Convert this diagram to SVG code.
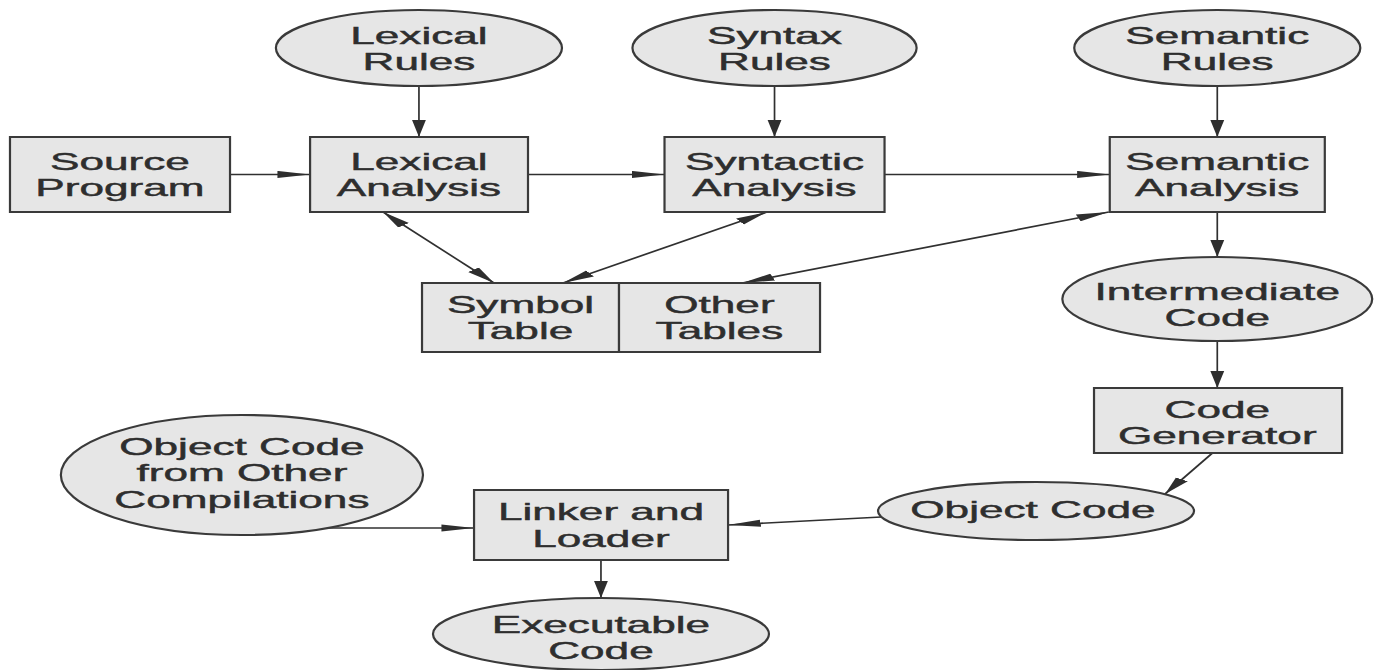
<svg xmlns="http://www.w3.org/2000/svg" width="1382" height="670" viewBox="0 0 1382 670">
  <defs>
    <style>
      .box, .oval { fill: #e6e6e6; stroke: #3a3a3a; stroke-width: 2.2; vector-effect: non-scaling-stroke; }
      .link { fill: none; stroke: #303030; stroke-width: 1.7; vector-effect: non-scaling-stroke; }
      .end { marker-end: url(#head); }
      .both { marker-start: url(#head); marker-end: url(#head); }
      text { font-family: "Liberation Sans", Arial, sans-serif; font-size: 23px; fill: #2e2e2e; stroke: #2e2e2e; stroke-width: 0.45; text-anchor: middle; }
    </style>
    <marker id="head" markerUnits="userSpaceOnUse" viewBox="0 -4 17 8" refX="17" refY="0" markerWidth="17" markerHeight="8" orient="auto-start-reverse">
      <path d="M0,-3.6 L17,0 L0,3.6 Z" fill="#2e2e2e"/>
    </marker>
  </defs>
  <rect width="1382" height="670" fill="#ffffff"/>

  <!-- drawing is laid out in a horizontally condensed frame and widened here -->
  <g transform="scale(1.92 1)">
    <g id="connectors">
      <path class="link end" d="M119.8,174.5 H161.5"/>
      <path class="link end" d="M275,174.5 H346.1"/>
      <path class="link end" d="M460.7,174.5 H578"/>
      <path class="link end" d="M218.2,86 V137"/>
      <path class="link end" d="M403.4,86 V137"/>
      <path class="link end" d="M634,86 V137"/>
      <path class="link end" d="M634,212 V257"/>
      <path class="link end" d="M634,341 V388"/>
      <path class="link end" d="M631.5,453 L606.8,494"/>
      <path class="link end" d="M459,517 L379.2,525"/>
      <path class="link end" d="M170.2,528 H246.9"/>
      <path class="link end" d="M313,560 V598"/>
      <path class="link both" d="M199.5,212 L257.3,283"/>
      <path class="link both" d="M399.5,212 L293.2,283"/>
      <path class="link both" d="M577.5,212 L386.5,283"/>
    </g>

    <g id="source-program">
      <rect class="box" x="5.2" y="137" width="114.6" height="75"/>
      <text x="62.5" y="170">Source</text>
      <text x="62.5" y="196">Program</text>
    </g>
    <g id="lexical-rules">
      <ellipse class="oval" cx="218.2" cy="48" rx="74.5" ry="38"/>
      <text x="218.2" y="44.5">Lexical</text>
      <text x="218.2" y="70.5">Rules</text>
    </g>
    <g id="syntax-rules">
      <ellipse class="oval" cx="403.4" cy="48" rx="74" ry="38"/>
      <text x="403.4" y="44.5">Syntax</text>
      <text x="403.4" y="70.5">Rules</text>
    </g>
    <g id="semantic-rules">
      <ellipse class="oval" cx="634" cy="48" rx="74.5" ry="38"/>
      <text x="634" y="44.5">Semantic</text>
      <text x="634" y="70.5">Rules</text>
    </g>
    <g id="lexical-analysis">
      <rect class="box" x="161.5" y="137" width="113.5" height="75"/>
      <text x="218.2" y="170">Lexical</text>
      <text x="218.2" y="196">Analysis</text>
    </g>
    <g id="syntactic-analysis">
      <rect class="box" x="346.1" y="137" width="114.6" height="75"/>
      <text x="403.4" y="170">Syntactic</text>
      <text x="403.4" y="196">Analysis</text>
    </g>
    <g id="semantic-analysis">
      <rect class="box" x="578" y="137" width="112" height="75"/>
      <text x="634" y="170">Semantic</text>
      <text x="634" y="196">Analysis</text>
    </g>
    <g id="symbol-table">
      <rect class="box" x="219.8" y="283" width="102.6" height="69"/>
      <text x="271.1" y="313.5">Symbol</text>
      <text x="271.1" y="339.5">Table</text>
    </g>
    <g id="other-tables">
      <rect class="box" x="322.4" y="283" width="104.7" height="69"/>
      <text x="374.7" y="313.5">Other</text>
      <text x="374.7" y="339.5">Tables</text>
    </g>
    <g id="intermediate-code">
      <ellipse class="oval" cx="634" cy="299" rx="80.7" ry="42"/>
      <text x="634" y="300">Intermediate</text>
      <text x="634" y="326">Code</text>
    </g>
    <g id="code-generator">
      <rect class="box" x="569.8" y="388" width="129.2" height="65"/>
      <text x="634" y="418.5">Code</text>
      <text x="634" y="444.5">Generator</text>
    </g>
    <g id="object-code">
      <ellipse class="oval" cx="539.6" cy="511" rx="82.3" ry="29"/>
      <text x="538" y="518">Object Code</text>
    </g>
    <g id="linker-loader">
      <rect class="box" x="246.9" y="490" width="132.3" height="70"/>
      <text x="313" y="520.5">Linker and</text>
      <text x="313" y="547.5">Loader</text>
    </g>
    <g id="executable-code">
      <ellipse class="oval" cx="313" cy="634" rx="87.5" ry="36"/>
      <text x="313" y="633.5">Executable</text>
      <text x="313" y="659.5">Code</text>
    </g>
    <g id="object-code-other">
      <ellipse class="oval" cx="126" cy="475" rx="94.3" ry="60"/>
      <text x="126" y="455">Object Code</text>
      <text x="126" y="481.5">from Other</text>
      <text x="126" y="508">Compilations</text>
    </g>
  </g>
</svg>
